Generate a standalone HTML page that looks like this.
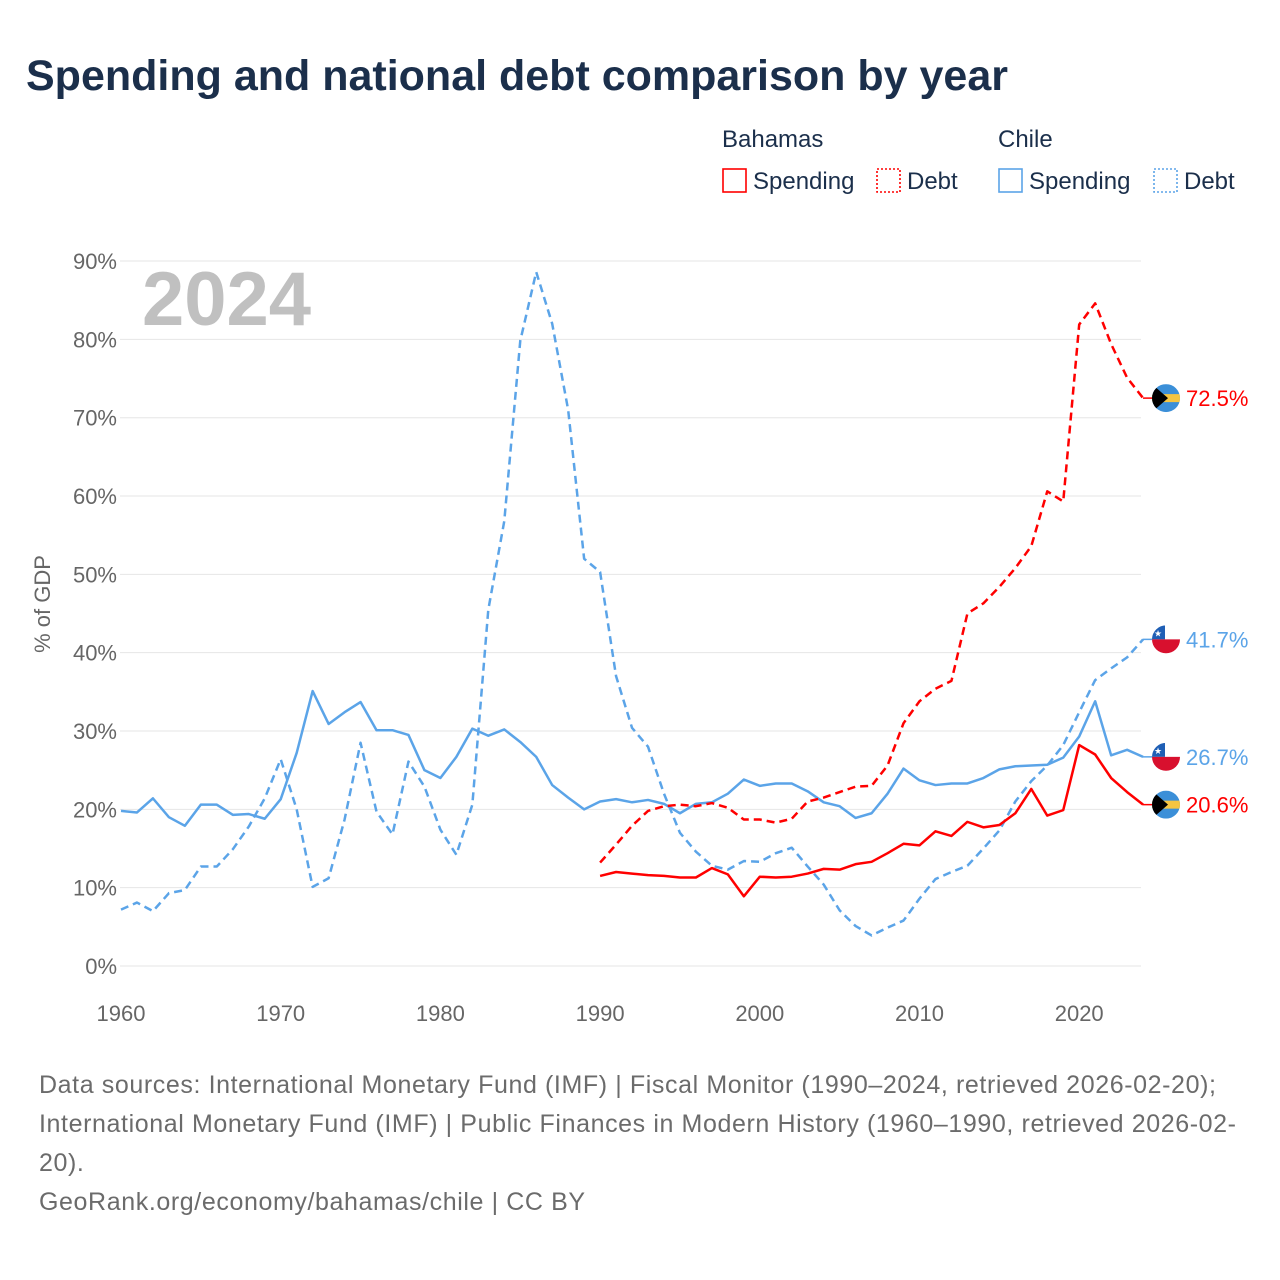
<!DOCTYPE html>
<html><head><meta charset="utf-8"><style>
body{margin:0;background:#fff;font-family:"Liberation Sans",sans-serif;}
#wrap{position:relative;width:1280px;height:1280px;overflow:hidden;}
.t{position:absolute;}
</style></head><body>
<div id="wrap">
<div class="t" style="left:26px;top:52px;font-size:43px;font-weight:bold;color:#1b2f4b;letter-spacing:0px">Spending and national debt comparison by year</div>
<svg id="svg" width="1280" height="1280" style="position:absolute;left:0;top:0"></svg>
<div class="t" style="left:39px;top:1066px;font-size:25px;line-height:39px;color:#6b6b6b;width:1215px;letter-spacing:0.6px">Data sources: International Monetary Fund (IMF) | Fiscal Monitor (1990–2024, retrieved 2026-02-20); International Monetary Fund (IMF) | Public Finances in Modern History (1960–1990, retrieved 2026-02-20).<br>GeoRank.org/economy/bahamas/chile | CC BY</div>
</div>
<script>
const years=[];for(let y=1960;y<=2024;y++)years.push(y);
const chileSpending=[19.8,19.6,21.4,19.0,17.9,20.6,20.6,19.3,19.4,18.8,21.3,27.2,35.1,30.9,32.4,33.7,30.1,30.1,29.5,25.0,24.0,26.7,30.3,29.4,30.2,28.6,26.7,23.1,21.5,20.0,21.0,21.3,20.9,21.2,20.7,19.5,20.7,20.9,22.0,23.8,23.0,23.3,23.3,22.3,20.9,20.4,18.9,19.5,22.0,25.2,23.7,23.1,23.3,23.3,24.0,25.1,25.5,25.6,25.7,26.6,29.3,33.8,26.9,27.6,26.7];
const chileDebt=[7.2,8.1,7.0,9.3,9.7,12.7,12.7,14.9,17.8,21.4,26.4,20.0,10.1,11.2,18.7,28.5,19.7,16.8,26.1,22.9,17.4,14.2,20.6,45.5,56.8,79.8,88.6,82.0,71.0,52.0,50.3,37.0,30.4,28.0,22.0,17.0,14.6,12.8,12.3,13.4,13.3,14.4,15.1,12.7,10.4,7.1,5.1,3.9,4.9,5.8,8.6,11.1,12.0,12.8,15.0,17.3,21.0,23.6,25.6,28.2,32.4,36.5,38.0,39.4,41.7];
const bahYears=[];for(let y=1990;y<=2024;y++)bahYears.push(y);
const bahDebt=[13.2,15.5,17.9,19.8,20.4,20.6,20.4,20.8,20.2,18.7,18.7,18.3,18.8,21.0,21.5,22.2,22.9,23.0,25.6,31.0,33.8,35.4,36.4,45.0,46.3,48.4,50.8,53.6,60.6,59.3,81.9,84.6,79.4,75.1,72.5];
const bahSpending=[11.5,12.0,11.8,11.6,11.5,11.3,11.3,12.5,11.7,8.9,11.4,11.3,11.4,11.8,12.4,12.3,13.0,13.3,14.4,15.6,15.4,17.2,16.6,18.4,17.7,18.0,19.5,22.6,19.2,19.9,28.2,27.0,24.0,22.2,20.6];
const yTicks=[0,10,20,30,40,50,60,70,80,90];
const xTicks=[1960,1970,1980,1990,2000,2010,2020];

const NS="http://www.w3.org/2000/svg",svg=document.getElementById('svg');
const X=y=>121+(y-1960)*15.97, Y=v=>966-v*7.833;
function mk(tag,at,txt){const e=document.createElementNS(NS,tag);for(const k in at)e.setAttribute(k,at[k]);if(txt!=null)e.textContent=txt;svg.appendChild(e);return e;}
yTicks.forEach(v=>{
 const g=mk('line',{x1:120,x2:1141,y1:Y(v),y2:Y(v),stroke:'#e6e6e6','stroke-width':1});
 
 
 const t=mk('text',{x:117,y:Y(v)+8,'text-anchor':'end','font-size':22,fill:'#666','font-family':'Liberation Sans'},v+'%');
 
 
});
xTicks.forEach(v=>{
 const t=mk('text',{x:X(v),y:1021,'text-anchor':'middle','font-size':22,fill:'#666','font-family':'Liberation Sans'},v);
 
 
});
const yt=mk('text',{x:0,y:0,transform:'translate(50,604) rotate(-90)','text-anchor':'middle','font-size':22,fill:'#666','font-family':'Liberation Sans'},'% of GDP');


const yr=mk('text',{x:142,y:325,'font-size':76,'font-weight':'bold',fill:'#c0c0c0','font-family':'Liberation Sans'},'2024');


function line(xs,vs,color,dash,name){
 const p=mk('polyline',{points:xs.map((y,i)=>X(y)+','+Y(vs[i])).join(' '),fill:'none',stroke:color,'stroke-width':2.5,'stroke-dasharray':dash||'none','stroke-linejoin':'round'});
 
 
}
const BLUE='#5ba4e8',RED='#ff0000';
line(years,chileDebt,BLUE,'8,5','chile-debt-line');
line(years,chileSpending,BLUE,null,'chile-spending-line');
line(bahYears,bahDebt,RED,'8,5','bahamas-debt-line');
line(bahYears,bahSpending,RED,null,'bahamas-spending-line');
function flag(cy,country,label,color,name){
 const cx=1166,r=14;
 const g=document.createElementNS(NS,'g');svg.appendChild(g);
 
 
 const cl='c'+Math.round(cy);
 g.innerHTML=`<line x1="1143" x2="1152" y1="${cy}" y2="${cy}" stroke="${color}" stroke-width="1.5"/><clipPath id="${cl}"><circle cx="${cx}" cy="${cy}" r="${r}"/></clipPath>`+
 (country==='bs'?`<g clip-path="url(#${cl})"><rect x="${cx-r}" y="${cy-r}" width="28" height="28" fill="#3b8fd8"/><rect x="${cx-r}" y="${cy-4}" width="28" height="8" fill="#f5c542"/><polygon points="${cx-r},${cy-r} ${cx+2},${cy} ${cx-r},${cy+r}" fill="#000"/></g>`:
 `<g clip-path="url(#${cl})"><rect x="${cx-r}" y="${cy-r}" width="28" height="14" fill="#fff"/><rect x="${cx-r}" y="${cy-r}" width="13" height="14" fill="#1f5fb5"/><rect x="${cx-r}" y="${cy}" width="28" height="14" fill="#d8102e"/><text x="${cx-8}" y="${cy-3}" font-size="9" fill="#fff" text-anchor="middle">★</text></g>`);
 const t=mk('text',{x:1186,y:cy+8,'font-size':22,fill:color,'font-family':'Liberation Sans'},label);
 
 
}
flag(Y(72.5),'bs','72.5%',RED,'bahamas-debt-end');
flag(Y(41.7),'cl','41.7%',BLUE,'chile-debt-end');
flag(Y(26.7),'cl','26.7%',BLUE,'chile-spending-end');
flag(Y(20.6),'bs','20.6%',RED,'bahamas-spending-end');
function lt(x,y,s,n){const t=mk('text',{x:x,y:y,'font-size':24,fill:'#1b2f4b','font-family':'Liberation Sans'},s);}
lt(722,147,'Bahamas','legend-bahamas-title');lt(998,147,'Chile','legend-chile-title');
function sw(x,color,dash,label,n){
 const r=mk('rect',{x:x,y:169,width:23,height:23,fill:'none',stroke:color,'stroke-width':1.6,'stroke-dasharray':dash||'none'});
 
 
 lt(x+30,189,label,n+'-label');
}
sw(723,RED,null,'Spending','legend-bahamas-spending');
sw(877,RED,'2,2','Debt','legend-bahamas-debt');
sw(999,BLUE,null,'Spending','legend-chile-spending');
sw(1154,BLUE,'2,2','Debt','legend-chile-debt');
</script>
</body></html>
